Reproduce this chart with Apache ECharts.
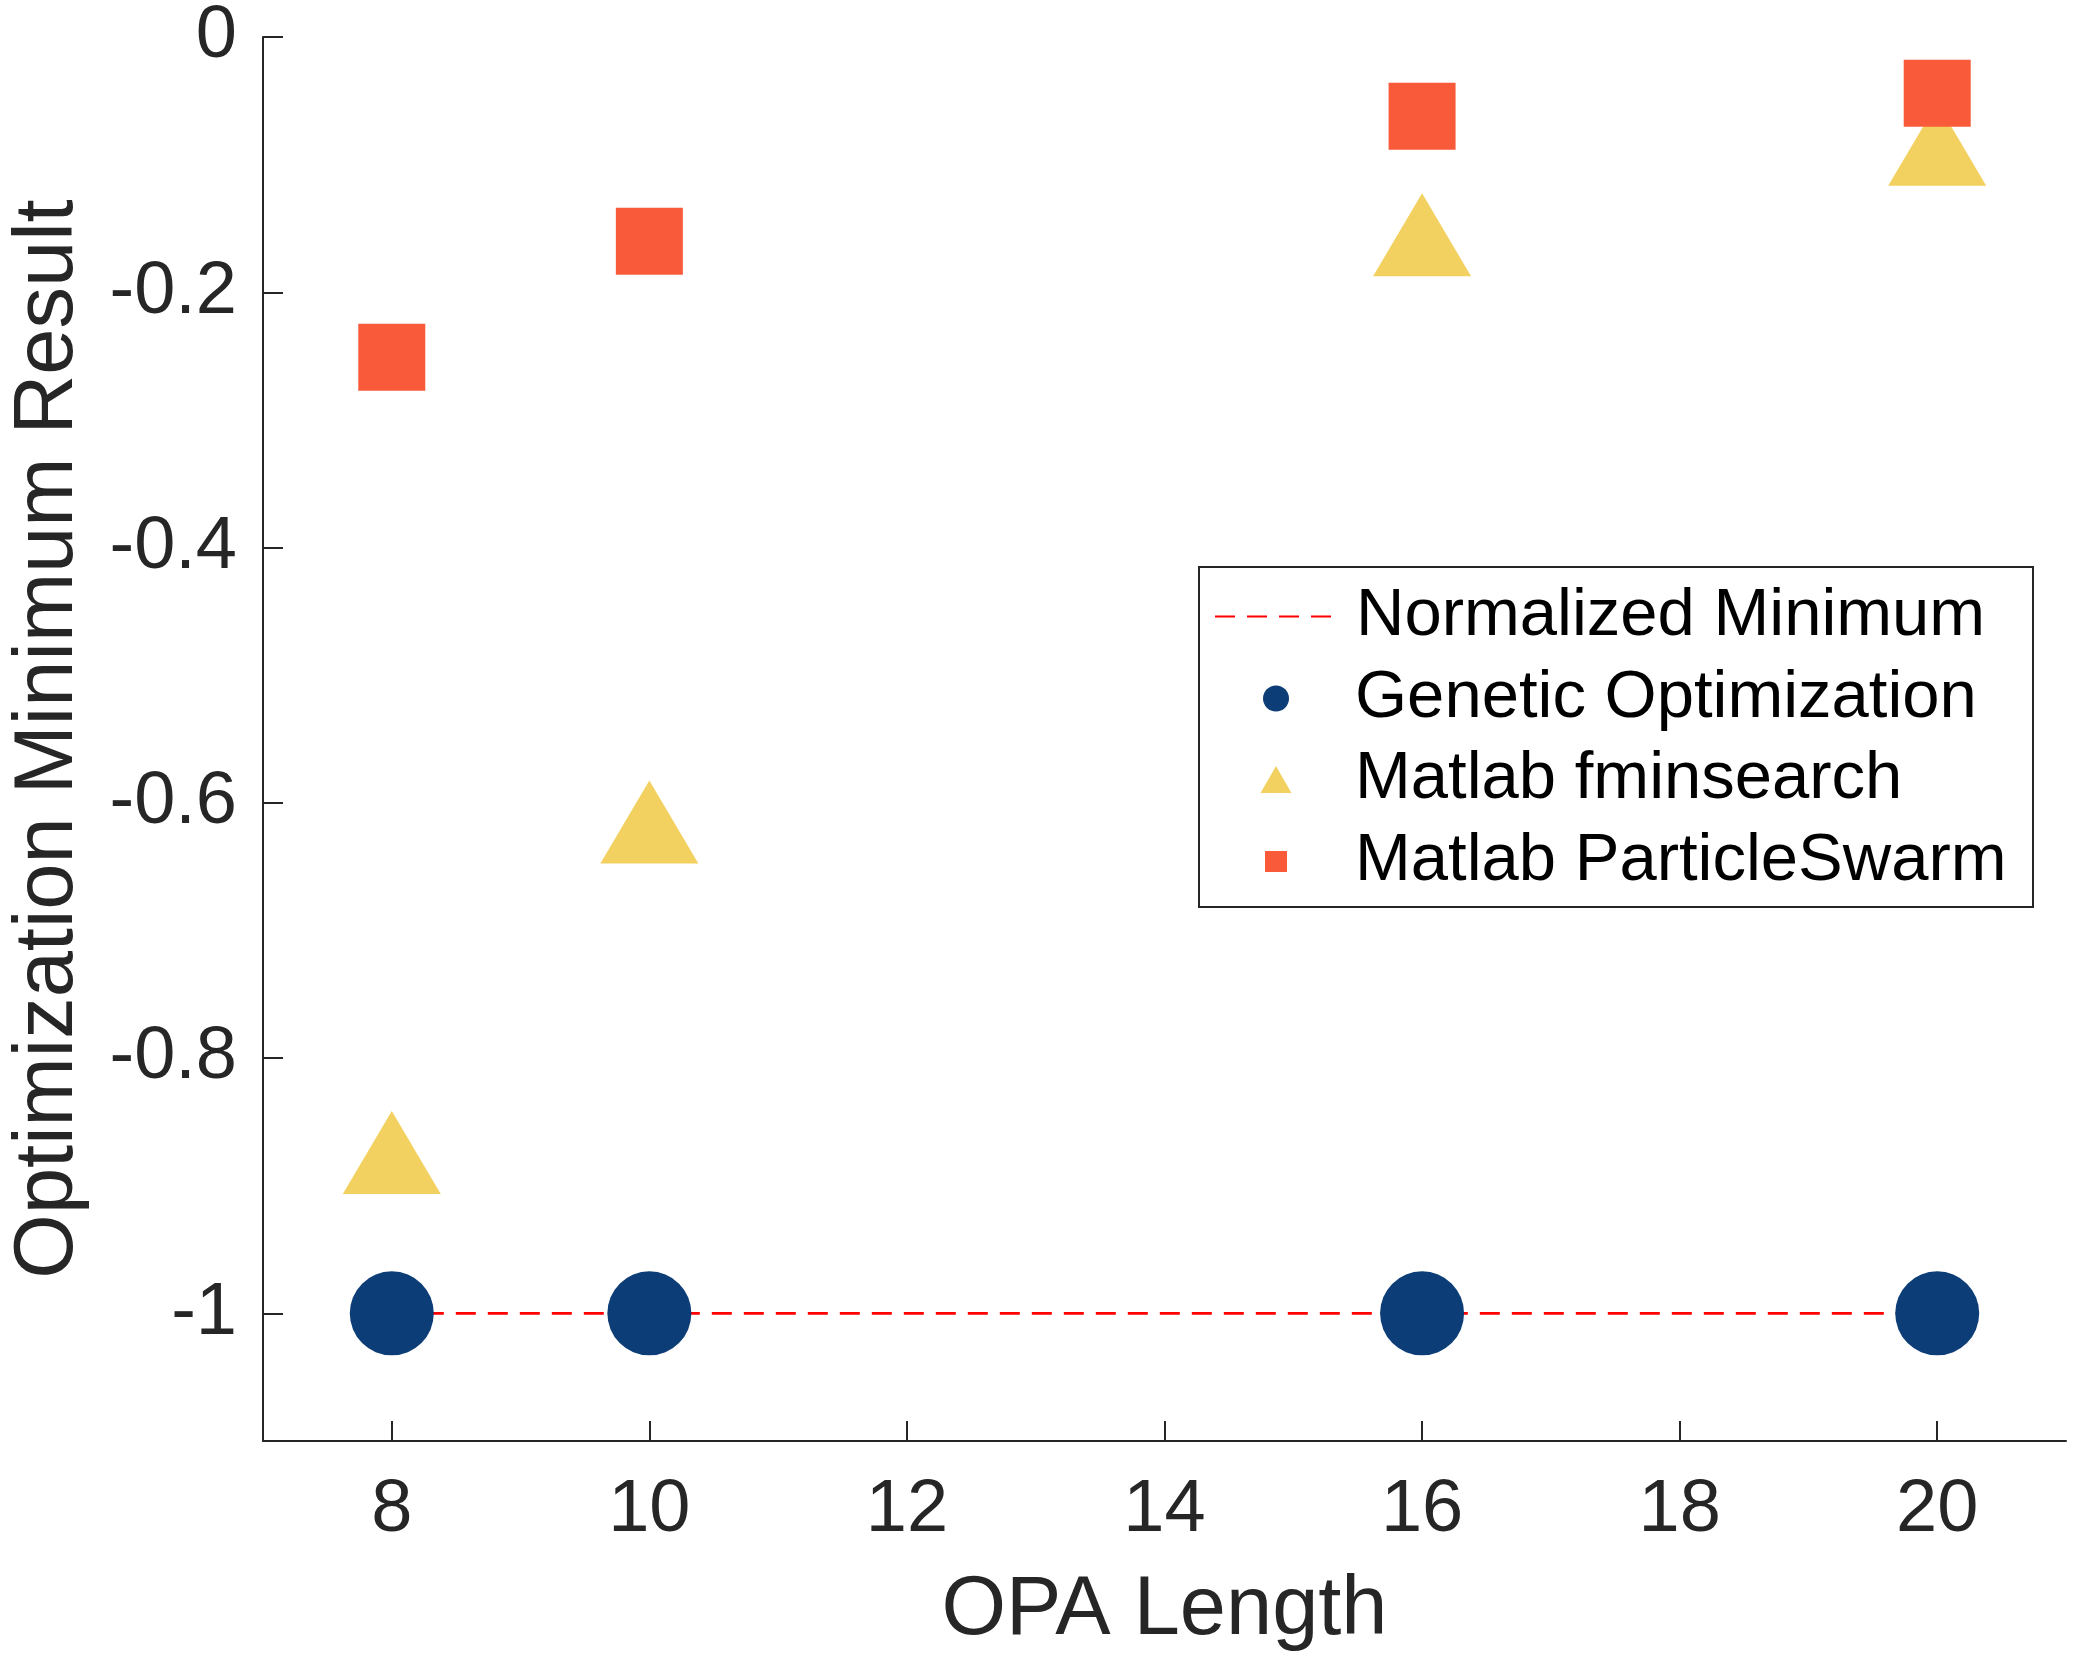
<!DOCTYPE html>
<html>
<head>
<meta charset="utf-8">
<style>
  html, body { margin: 0; padding: 0; background: #ffffff; }
  #chart { width: 2075px; height: 1661px; }
</style>
<script src="https://cdn.jsdelivr.net/npm/echarts@6/dist/echarts.min.js"></script>
</head>
<body>
<div id="chart"></div>
<script>
// ---- data ----
const opaLength = [8, 10, 16, 20];
const normalizedMinimum = [-1, -1, -1, -1];
const geneticOptimization = [-1, -1, -1, -1];
const matlabFminsearch = [-0.874, -0.615, -0.155, -0.084];
const matlabParticleSwarm = [-0.251, -0.160, -0.062, -0.044];
const xTickValues = [8, 10, 12, 14, 16, 18, 20];
const yTickValues = [-1, -0.8, -0.6, -0.4, -0.2, 0];
const seriesNames = ['Normalized Minimum', 'Genetic Optimization', 'Matlab fminsearch', 'Matlab ParticleSwarm'];

const pairs = (ys) => opaLength.map((x, i) => [x, ys[i]]);

const FONT = '"Liberation Sans", Arial, Helvetica, sans-serif';
const AXIS_COLOR = '#262626';

// legend layout (one legend component per entry so each icon keeps its own size)
const legendIconCenterX = 1276;
const legendTextX = 1355;
const legendRowCenters = [616, 698, 779, 861];
const legendIconSizes = [[116, 26], [26, 26], [31, 27], [22, 21]];
const legendRowHeight = 66;

function makeLegend(i) {
  const w = legendIconSizes[i][0];
  const h = legendIconSizes[i][1];
  const left = i === 0 ? 1214 : legendIconCenterX - w / 2;
  const textPad = legendTextX - (left + w + 5);
  const item = i === 0 ? { name: seriesNames[i], itemStyle: { opacity: 0 } } : { name: seriesNames[i] };
  return {
    orient: 'vertical',
    left: left,
    top: legendRowCenters[i] - legendRowHeight / 2,
    padding: 0,
    itemWidth: w,
    itemHeight: h,
    selectedMode: false,
    data: [item],
    textStyle: { fontFamily: FONT, fontSize: 67, lineHeight: legendRowHeight, color: '#000000', padding: [0, 0, 0, textPad] }
  };
}

const chart = echarts.init(document.getElementById('chart'), null, { renderer: 'canvas' });

const option = {
  backgroundColor: '#ffffff',
  animation: false,
  grid: { left: 257, right: 9, top: 34, bottom: 220, containLabel: false },
  xAxis: {
    type: 'value',
    min: 7, max: 21,
    splitNumber: 7,
    name: 'OPA Length',
    nameLocation: 'middle',
    nameGap: 129,
    nameTextStyle: { fontFamily: FONT, fontSize: 83, color: AXIS_COLOR },
    axisLine: { show: true, onZero: false, lineStyle: { color: AXIS_COLOR, width: 2 } },
    axisTick: { show: true, inside: true, length: 20, customValues: xTickValues, lineStyle: { color: AXIS_COLOR, width: 2 } },
    axisLabel: { customValues: xTickValues, margin: 33, fontFamily: FONT, fontSize: 74, color: AXIS_COLOR },
    splitLine: { show: false }
  },
  yAxis: {
    type: 'value',
    min: -1.1, max: 0,
    name: 'Optimization Minimum Result',
    nameLocation: 'middle',
    nameGap: 172,
    nameTextStyle: { fontFamily: FONT, fontSize: 83, color: AXIS_COLOR },
    axisLine: { show: true, onZero: false, lineStyle: { color: AXIS_COLOR, width: 2 } },
    axisTick: { show: true, inside: true, length: 20, customValues: yTickValues, lineStyle: { color: AXIS_COLOR, width: 2 } },
    axisLabel: { customValues: yTickValues, margin: 26, fontFamily: FONT, fontSize: 74, color: AXIS_COLOR },
    splitLine: { show: false }
  },
  legend: [0, 1, 2, 3].map(makeLegend),
  graphic: [{
    type: 'rect',
    z: 0,
    silent: true,
    shape: { x: 1199, y: 567, width: 834, height: 340 },
    style: { fill: '#ffffff', stroke: AXIS_COLOR, lineWidth: 2 }
  }],
  series: [
    {
      name: seriesNames[0],
      type: 'line',
      data: pairs(normalizedMinimum),
      symbol: 'none',
      lineStyle: { color: '#ff0000', width: 2.6, type: [20, 12] },
      itemStyle: { color: '#ff0000' },
      z: 1
    },
    {
      name: seriesNames[1],
      type: 'scatter',
      data: pairs(geneticOptimization),
      symbol: 'circle',
      symbolSize: 84,
      itemStyle: { color: '#0c3d76', opacity: 1 },
      z: 2
    },
    {
      name: seriesNames[2],
      type: 'scatter',
      data: pairs(matlabFminsearch),
      symbol: 'triangle',
      symbolSize: [98, 83],
      itemStyle: { color: '#f2d160', opacity: 1 },
      z: 3
    },
    {
      name: seriesNames[3],
      type: 'scatter',
      data: pairs(matlabParticleSwarm),
      symbol: 'rect',
      symbolSize: 67,
      itemStyle: { color: '#f85a3a', opacity: 1 },
      z: 4
    }
  ]
};

chart.setOption(option);
</script>
</body>
</html>
